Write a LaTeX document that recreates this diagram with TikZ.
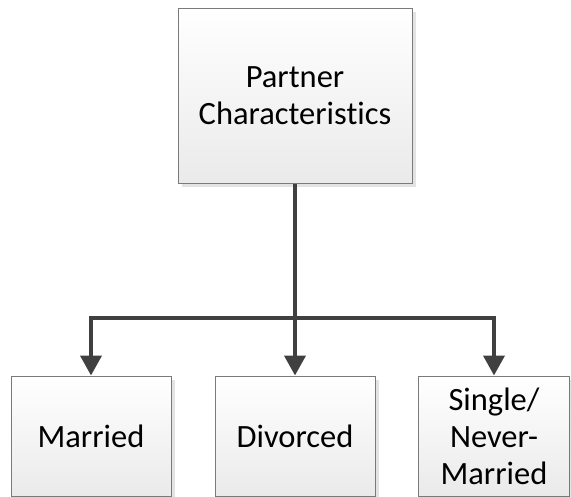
\documentclass[tikz,border=0pt]{standalone}
\usepackage{fontspec}
\setmainfont{Carlito}[Ligatures=NoCommon]
\usetikzlibrary{arrows.meta,shadows}
\definecolor{edgec}{HTML}{404040}
\definecolor{boxline}{HTML}{7A7A7A}
\definecolor{boxbot}{HTML}{EAEAEA}
\begin{document}
\begin{tikzpicture}[x=1pt,y=-1pt,
  box/.style={draw=boxline, line width=1pt, top color=white, bottom color=boxbot,
    drop shadow={shadow xshift=4pt, shadow yshift=-4pt, fill=black!18, opacity=0.6},
    align=center, font=\fontsize{32.5}{37}\selectfont, inner sep=0pt},
  conn/.style={draw=edgec, line width=4pt},
  arr/.style={conn, -{Triangle[width=21pt,length=20pt]}}]
\useasboundingbox (0,0) rectangle (571,496);
\begin{scope}
\clip (0,0) rectangle (571,496);
\node[box, minimum width=234pt, minimum height=175pt] (top) at (295,95.5) {Partner\\Characteristics};
\node[box, minimum width=160pt, minimum height=120pt] (married) at (91,436) {Married};
\node[box, minimum width=160pt, minimum height=120pt] (divorced) at (295,436) {Divorced};
\node[box, minimum width=151pt, minimum height=120pt] (single) at (494,436) {Single/\\Never-\\Married};
\end{scope}
\coordinate (j) at (295,318);
\draw[conn] (top.south) -- (j);
\draw[arr] (j) -| (married.north);
\draw[arr] (j) -- (divorced.north);
\draw[arr] (j) -| (single.north);
\end{tikzpicture}
\end{document}
